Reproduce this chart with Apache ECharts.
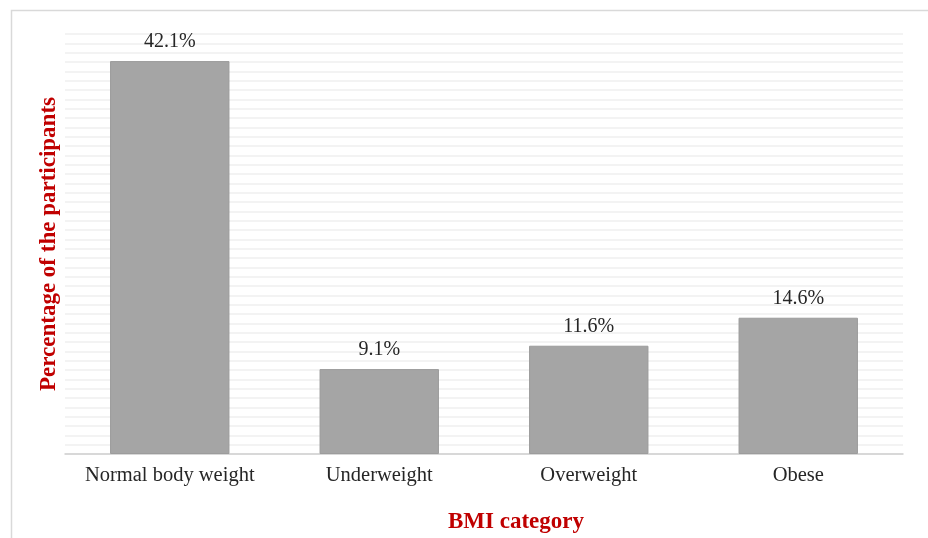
<!DOCTYPE html>
<html>
<head>
<meta charset="utf-8">
<style>
  html, body { margin: 0; padding: 0; background: #ffffff; }
  #chart { width: 928px; height: 538px; }
</style>
<script src="https://cdn.jsdelivr.net/npm/echarts@6/dist/echarts.min.js"></script>
</head>
<body>
<div id="chart"></div>
<script>
// BMI categories and the share of participants in each (%)
const categories = ['Normal body weight', 'Underweight', 'Overweight', 'Obese'];
const percentages = [42.1, 9.1, 11.6, 14.6];

const serif = '"Liberation Serif", "Times New Roman", serif';
const titleRed = '#c00000';

const chart = echarts.init(document.getElementById('chart'), null, { renderer: 'canvas' });

chart.setOption({
  backgroundColor: '#ffffff',
  animation: false,
  grid: { left: 65, right: 25, top: 34, bottom: 84, containLabel: false },
  xAxis: {
    type: 'category',
    data: categories,
    axisTick: { show: false },
    axisLine: { show: true, lineStyle: { color: '#d0d0d0', width: 1.5 } },
    axisLabel: { interval: 0, color: '#262626', fontFamily: serif, fontSize: 20.5, margin: 11 }
  },
  yAxis: {
    type: 'value',
    min: 0,
    max: 45,
    interval: 1,
    axisLabel: { show: false },
    axisLine: { show: false },
    axisTick: { show: false },
    splitLine: { show: true, lineStyle: { color: '#efefef', width: 1.5 } }
  },
  series: [{
    type: 'bar',
    data: percentages,
    barCategoryGap: '43%',
    itemStyle: { color: '#a5a5a5', borderColor: '#9c9c9c', borderWidth: 1 },
    label: {
      show: true,
      position: 'top',
      distance: 9,
      color: '#262626',
      fontFamily: serif,
      fontSize: 20,
      formatter: p => p.value.toFixed(1) + '%'
    }
  }],
  graphic: [
    {
      // outer frame
      type: 'rect',
      left: 9, top: 8,
      shape: { x: 0, y: 0, width: 940, height: 560 },
      style: { fill: 'none', stroke: '#d9d9d9', lineWidth: 1.5 },
      silent: true
    },
    {
      type: 'text',
      x: 49, y: 244,
      rotation: Math.PI / 2,
      style: {
        text: 'Percentage of the participants',
        fill: titleRed,
        font: 'bold 23px ' + serif,
        align: 'center',
        verticalAlign: 'middle'
      }
    },
    {
      type: 'text',
      x: 516, y: 522,
      style: {
        text: 'BMI category',
        fill: titleRed,
        font: 'bold 23px ' + serif,
        align: 'center',
        verticalAlign: 'middle'
      }
    }
  ]
});
</script>
</body>
</html>
